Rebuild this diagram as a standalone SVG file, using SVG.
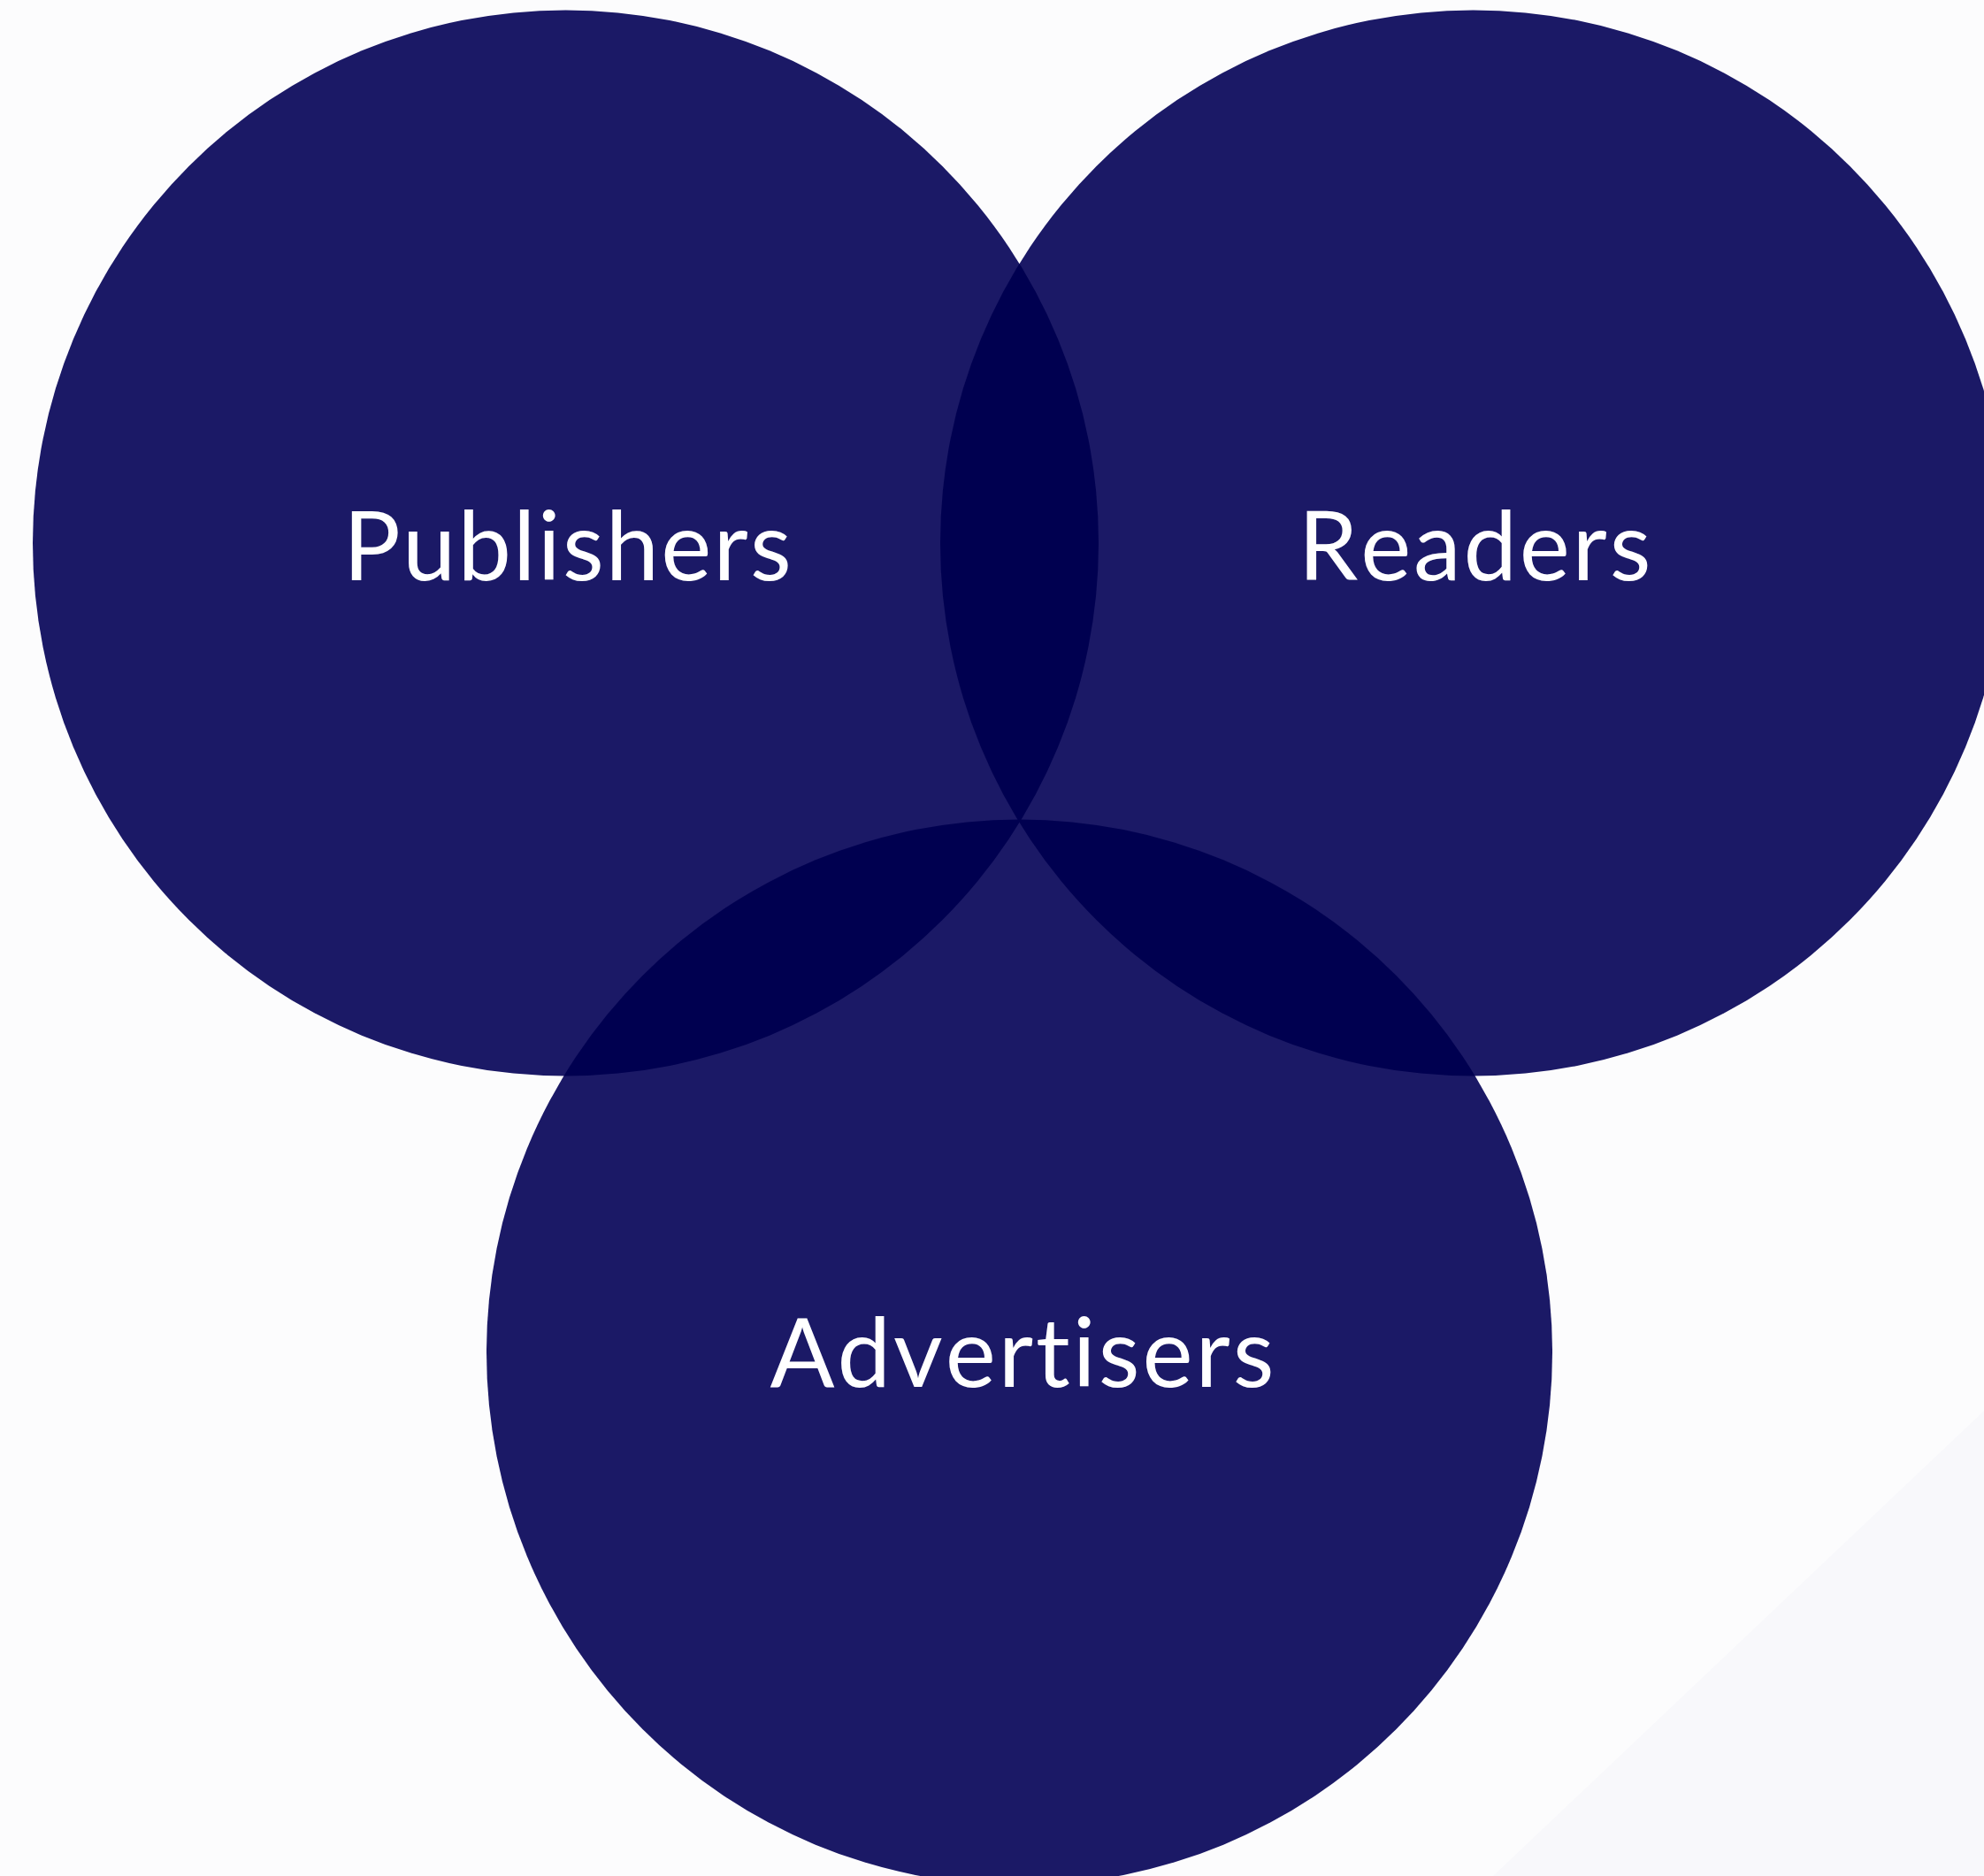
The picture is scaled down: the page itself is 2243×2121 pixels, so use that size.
<svg xmlns="http://www.w3.org/2000/svg" width="2243" height="2121" viewBox="0 0 2243 2121">
<style>
.c{fill:#1b1966}
.o{fill:#000050}
.t{fill:#ffffff;font-family:Lato,"Open Sans","Liberation Sans",sans-serif;font-size:108px;text-anchor:middle;font-variant-ligatures:none;font-kerning:none}
</style>
<defs>
<clipPath id="cpP"><circle cx="639.5" cy="614" r="602.5"/></clipPath>
<clipPath id="cpR"><circle cx="1665.5" cy="614" r="602.5"/></clipPath>
</defs>
<rect width="2243" height="2121" fill="#fcfcfd"/>
<polygon points="1688,2121 2243,1595 2243,2121" fill="#f8f8fb"/>
<g id="publishers"><circle class="c" cx="639.5" cy="614" r="602.5"/></g>
<g id="readers"><circle class="c" cx="1665.5" cy="614" r="602.5"/></g>
<g id="advertisers"><circle class="c" cx="1152.5" cy="1529" r="602.5"/></g>
<g id="overlaps">
<circle class="o" cx="1665.5" cy="614" r="602.5" clip-path="url(#cpP)"/>
<circle class="o" cx="1152.5" cy="1529" r="602.5" clip-path="url(#cpP)"/>
<circle class="o" cx="1152.5" cy="1529" r="602.5" clip-path="url(#cpR)"/>
</g>
<g id="labels">
<text class="t" x="642.5" y="656" letter-spacing="2.2">Publishers</text>
<text class="t" x="1668.5" y="656" letter-spacing="2.8">Readers</text>
<text class="t" x="1157" y="1568" letter-spacing="3">Advertisers</text>
</g>
</svg>
